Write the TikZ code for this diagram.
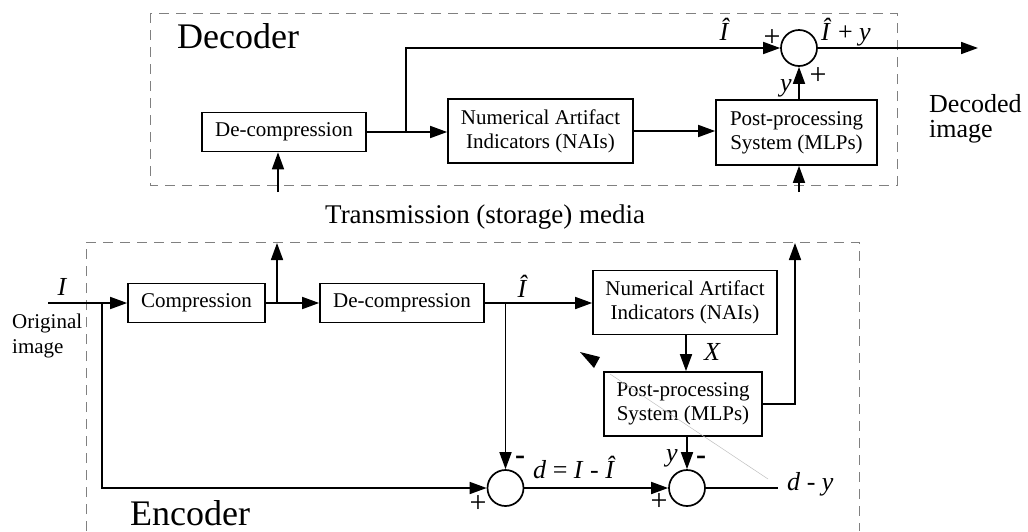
\documentclass[tikz,border=0pt]{standalone}
\usepackage{fontspec}
\setmainfont{Liberation Serif}
\usetikzlibrary{arrows.meta}
\begin{document}
\begin{tikzpicture}[x=1pt,y=-1pt,
  blk/.style={draw, line width=1.7pt, align=center, font=\fontsize{21}{24}\selectfont, inner sep=0pt},
  sumc/.style={draw, circle, line width=1.7pt, minimum size=36pt, inner sep=0pt},
  wire/.style={line width=1.7pt},
  arr/.style={wire, -{Triangle[length=17pt,width=12pt]}},
  frame/.style={gray, line width=0.9pt, dash pattern=on 10pt off 7pt},
  lbl/.style={font=\fontsize{26}{28}\selectfont\itshape, inner sep=0pt},
  sign/.style={font=\fontsize{26}{28}\selectfont, inner sep=0pt},
  plus/.style={font=\fontsize{30}{30}\selectfont, inner sep=0pt},
  minus/.style={font=\fontsize{30}{30}\selectfont\bfseries, inner sep=0pt},
  big/.style={font=\fontsize{36}{40}\selectfont, inner sep=0pt},
  txt/.style={font=\fontsize{21}{25}\selectfont, inner sep=0pt, align=left},
]
\useasboundingbox (0,0) rectangle (1028,531);

% frames
\draw[frame] (150,13) rectangle (897,185);
\draw[frame] (86,531) -- (86,242) -- (859,242) -- (859,531);

% ---------------- decoder ----------------
\node[blk, minimum width=164pt, minimum height=39pt] (ddc) at (284,132) {De-compression};
\node[blk, minimum width=185pt, minimum height=64pt] (dnai) at (540.5,131) {Numerical Artifact\\Indicators (NAIs)};
\node[blk, minimum width=161pt, minimum height=65pt] (dpost) at (796.5,132.5) {Post-processing\\System (MLPs)};
\node[sumc] (dsum) at (799,48) {};

\coordinate (din) at (278,192);
\coordinate (dbr) at (406,132);
\coordinate (dout) at (978,48);
\coordinate (dpin) at (799,192);

\draw[arr] (din) -- (din |- ddc.south);
\draw[arr] (ddc.east) -- (dnai.west |- ddc.east);
\draw[arr] (dbr) |- (dsum.west);
\draw[arr] (dnai.east) -- (dpost.west |- dnai.east);
\draw[arr] (dsum |- dpost.north) -- (dsum.south);
\draw[arr] (dsum.east) -- (dout);
\draw[arr] (dpin) -- (dpin |- dpost.south);

\node[big, anchor=base west] (dtitle) at (177,48) {Decoder};
\node[lbl, anchor=base] (dIhat) at (724,40) {\^I};
\node[plus] (dp1) at (772,38) {+};
\node[sign, anchor=base west] (dsumlbl) at (821,40) {\textit{\^I} + \textit{y}};
\node[plus] (dp2) at (818,76) {+};
\node[lbl] (dy) at (786,88) {y};
\node[txt, anchor=north west] (dimg) at (929,94) {\fontsize{26}{28}\selectfont Decoded\\\fontsize{26}{28}\selectfont image};

\node[font=\fontsize{27}{30}\selectfont, inner sep=0pt, anchor=base west] (media) at (325,223) {Transmission (storage) media};

% ---------------- encoder ----------------
\node[blk, minimum width=137pt, minimum height=39pt] (ecomp) at (196.5,303) {Compression};
\node[blk, minimum width=164pt, minimum height=39pt] (edc) at (402,303) {De-compression};
\node[blk, minimum width=184pt, minimum height=64pt] (enai) at (685,302.5) {Numerical Artifact\\Indicators (NAIs)};
\node[blk, minimum width=158pt, minimum height=64pt] (epost) at (683,404) {Post-processing\\System (MLPs)};
\node[sumc] (s1) at (505.5,488) {};
\node[sumc] (s2) at (687,488) {};

\coordinate (ein) at (48,303);
\coordinate (ebr0) at (102,303);
\coordinate (ebr1) at (277,303);
\coordinate (etx1) at (277,243);
\coordinate (ebr2) at (505.5,303);
\coordinate (etx2) at (795,243);
\coordinate (eout) at (778,488);

\draw[arr] (ein) -- (ecomp.west);
\draw[arr] (ebr0) |- (s1.west);
\draw[arr] (ecomp.east) -- (edc.west);
\draw[arr] (ebr1) -- (etx1);
\draw[arr] (edc.east) -- (enai.west |- edc.east);
\draw[arr] (ebr2) -- (s1.north);
\draw[arr] (enai.south -| 686,0) -- (epost.north -| 686,0);
\draw[arr] (s2 |- epost.south) -- (s2.north);
\draw[arr] (epost.east) -| (etx2);
\draw[arr] (s1.east) -- (s2.west);
\draw[wire] (s2.east) -- (eout);

\node[lbl, anchor=base] (eI) at (62,295) {I};
\node[txt, anchor=north west] (eorig) at (12,314) {Original\\image};
\node[lbl, anchor=base] (eIhat) at (522,297) {\^I};
\node[sign, anchor=base west] (edlbl) at (533,478) {\textit{d} = \textit{I} - \textit{\^I}};
\node[minus] (em1) at (520,460) {-};
\node[plus] (ep1) at (478,504) {+};
\node[plus] (ep2) at (659,502) {+};
\node[lbl] (ey) at (672,458) {y};
\node[minus] (em2) at (701,460) {-};
\node[lbl] (eX) at (712,352) {X};
\node[sign, anchor=west] (edy) at (787,484) {\textit{d} - \textit{y}};
\node[big, anchor=base west] (etitle) at (130,525) {Encoder};

% scan artefacts
\fill (580,352) -- (600,357) -- (594,368) -- cycle;
\draw[gray!50, line width=0.5pt] (610,374) -- (768,479);
\end{tikzpicture}
\end{document}
